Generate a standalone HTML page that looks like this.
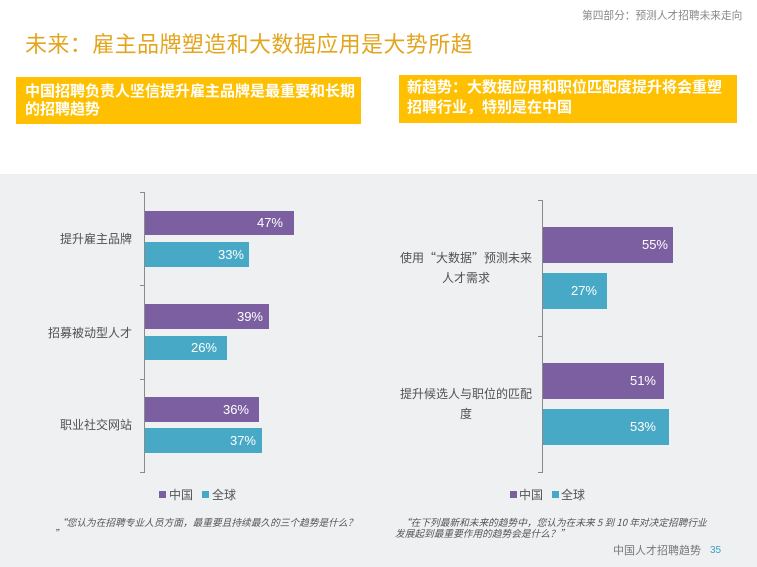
<!DOCTYPE html>
<html>
<head>
<meta charset="utf-8">
<style>
  html,body{margin:0;padding:0;}
  body{width:757px;height:567px;position:relative;overflow:hidden;background:#ffffff;
    font-family:"Liberation Sans","Noto Sans CJK SC",sans-serif;}
  .abs{position:absolute;white-space:nowrap;}
  .cjk{font-family:"Noto Sans CJK SC","Liberation Sans",sans-serif;}
  .gray{position:absolute;left:0;top:174px;width:757px;height:393px;background:#eff0f2;}
  .box{position:absolute;background:#fec000;color:#fff;font-weight:bold;}
  .p{position:absolute;background:#7c5fa1;}
  .t{position:absolute;background:#47a9c6;}
  .val{position:absolute;width:44px;text-align:right;color:#fff;font-size:13px;line-height:14px;}
  .axis{position:absolute;background:#8a8a8a;width:1px;}
  .tick{position:absolute;background:#8a8a8a;height:1px;width:4px;}
  .cat{position:absolute;color:#505050;font-size:12px;line-height:12px;white-space:nowrap;}
  .leg{position:absolute;font-size:12px;line-height:12px;color:#555;white-space:nowrap;}
  .sq{position:absolute;width:7px;height:7px;}
  .fn{position:absolute;font-size:9.7px;line-height:10px;color:#555;font-style:italic;white-space:nowrap;}
</style>
</head>
<body>
<div class="gray"></div>

<!-- header -->
<div class="abs cjk" style="left:582px;top:10px;font-size:10.7px;line-height:12px;color:#888;">第四部分：预测人才招聘未来走向</div>

<!-- title -->
<div class="abs cjk" style="left:25px;top:31px;font-size:22px;line-height:24px;color:#e3a51f;letter-spacing:0.4px;">未来：雇主品牌塑造和大数据应用是大势所趋</div>

<!-- boxes -->
<div class="box" style="left:16px;top:77px;width:345px;height:47px;overflow:hidden;">
  <div class="abs cjk" style="left:9px;top:5px;font-size:15px;line-height:18px;">中国招聘负责人坚信提升雇主品牌是最重要和长期<br>的招聘趋势</div>
</div>
<div class="box" style="left:399px;top:75px;width:338px;height:48px;overflow:hidden;">
  <div class="abs cjk" style="left:8px;top:2px;font-size:15px;line-height:20px;">新趋势：大数据应用和职位匹配度提升将会重塑<br>招聘行业，特别是在中国</div>
</div>

<!-- LEFT CHART -->
<div class="axis" style="left:144px;top:192px;height:281px;"></div>
<div class="tick" style="left:140px;top:192px;"></div>
<div class="tick" style="left:140px;top:285px;"></div>
<div class="tick" style="left:140px;top:379px;"></div>
<div class="tick" style="left:140px;top:472px;"></div>

<div class="cat cjk" style="left:52px;width:80px;text-align:right;top:233px;">提升雇主品牌</div>
<div class="cat cjk" style="left:32px;width:100px;text-align:right;top:327px;">招募被动型人才</div>
<div class="cat cjk" style="left:52px;width:80px;text-align:right;top:419px;">职业社交网站</div>

<div class="p" style="left:145px;top:211px;width:149px;height:24px;"></div>
<div class="val" style="left:239px;top:216px;">47%</div>
<div class="t" style="left:145px;top:242px;width:104px;height:25px;"></div>
<div class="val" style="left:200px;top:248px;">33%</div>

<div class="p" style="left:145px;top:304px;width:124px;height:25px;"></div>
<div class="val" style="left:219px;top:310px;">39%</div>
<div class="t" style="left:145px;top:336px;width:82px;height:24px;"></div>
<div class="val" style="left:173px;top:341px;">26%</div>

<div class="p" style="left:145px;top:397px;width:114px;height:25px;"></div>
<div class="val" style="left:205px;top:403px;">36%</div>
<div class="t" style="left:145px;top:428px;width:117px;height:25px;"></div>
<div class="val" style="left:212px;top:434px;">37%</div>

<!-- left legend -->
<div class="sq" style="left:159px;top:491px;background:#7c5fa1;"></div>
<div class="leg cjk" style="left:169px;top:489px;">中国</div>
<div class="sq" style="left:202px;top:491px;background:#47a9c6;"></div>
<div class="leg cjk" style="left:212px;top:489px;">全球</div>

<!-- left footnote -->
<div class="fn cjk" style="left:57px;top:517px;">“您认为在招聘专业人员方面，最重要且持续最久的三个趋势是什么？</div>
<div class="fn cjk" style="left:54px;top:528px;">”</div>

<!-- RIGHT CHART -->
<div class="axis" style="left:542px;top:200px;height:273px;"></div>
<div class="tick" style="left:538px;top:200px;"></div>
<div class="tick" style="left:538px;top:336px;"></div>
<div class="tick" style="left:538px;top:472px;"></div>

<div class="cat cjk" style="left:396px;width:140px;text-align:center;line-height:20px;top:248px;">使用“大数据”预测未来<br>人才需求</div>
<div class="cat cjk" style="left:396px;width:140px;text-align:center;line-height:20px;top:384px;">提升候选人与职位的匹配<br>度</div>

<div class="p" style="left:543px;top:227px;width:130px;height:36px;"></div>
<div class="val" style="left:624px;top:238px;">55%</div>
<div class="t" style="left:543px;top:273px;width:64px;height:36px;"></div>
<div class="val" style="left:553px;top:284px;">27%</div>

<div class="p" style="left:543px;top:363px;width:121px;height:36px;"></div>
<div class="val" style="left:612px;top:374px;">51%</div>
<div class="t" style="left:543px;top:409px;width:126px;height:36px;"></div>
<div class="val" style="left:612px;top:420px;">53%</div>

<!-- right legend -->
<div class="sq" style="left:510px;top:491px;background:#7c5fa1;"></div>
<div class="leg cjk" style="left:519px;top:489px;">中国</div>
<div class="sq" style="left:552px;top:491px;background:#47a9c6;"></div>
<div class="leg cjk" style="left:561px;top:489px;">全球</div>

<!-- right footnote -->
<div class="fn cjk" style="left:401px;top:517px;">“在下列最新和未来的趋势中，您认为在未来 5 到 10 年对决定招聘行业</div>
<div class="fn cjk" style="left:395px;top:528px;">发展起到最重要作用的趋势会是什么？”</div>

<!-- footer -->
<div class="abs cjk" style="left:613px;top:544px;font-size:11px;line-height:12px;color:#777;">中国人才招聘趋势</div>
<div class="abs" style="left:710px;top:545px;font-size:10px;line-height:11px;color:#3aa0c0;">35</div>
</body>
</html>
